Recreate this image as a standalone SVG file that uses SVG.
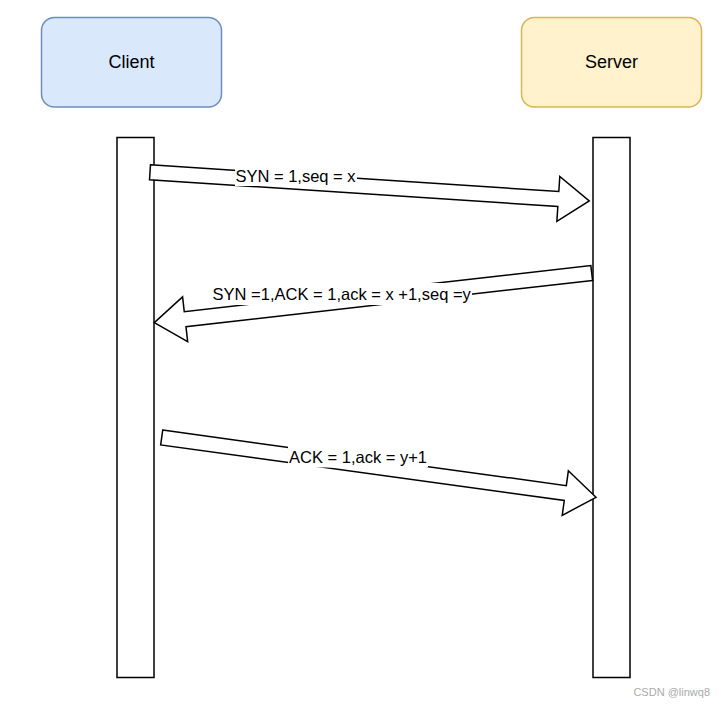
<svg xmlns="http://www.w3.org/2000/svg" width="723" height="705" viewBox="0 0 723 705">
<style>
.box{stroke-width:1.5}
.life{fill:#ffffff;stroke:#000000;stroke-width:1.5}
.arrow{fill:#ffffff;stroke:#000000;stroke-width:1.5;stroke-linejoin:miter}
.title{font-family:"Liberation Sans",Arial,sans-serif;font-size:18px;fill:#000000;text-anchor:middle}
.lbl{font-family:"Liberation Sans",Arial,sans-serif;font-size:16.5px;fill:#000000;text-anchor:middle}
.lblbg{fill:#ffffff}
</style>
<rect width="723" height="705" fill="#ffffff"/>
<g id="client">
<rect class="box" x="41.5" y="17.5" width="180" height="89.5" rx="13" ry="13" fill="#dae8fc" stroke="#6c8ebf"/>
<text class="title" x="131.5" y="68">Client</text>
</g>
<g id="server">
<rect class="box" x="521.5" y="17.5" width="180" height="89.5" rx="13" ry="13" fill="#fff2cc" stroke="#d6b656"/>
<text class="title" x="611.5" y="68">Server</text>
</g>
<g id="client-lifeline">
<rect class="life" x="117" y="137.5" width="37" height="540"/>
</g>
<g id="server-lifeline">
<rect class="life" x="593" y="137.5" width="37" height="540"/>
</g>
<g id="connectors">
<g id="syn">
<polygon class="arrow" transform="translate(150,172.2) rotate(3.75)" points="0,-7.5 409.2,-7.5 409.2,-22.5 440.2,0 409.2,22.5 409.2,7.5 0,7.5"/>
<rect class="lblbg" x="235" y="164" width="122" height="22"/>
<text class="lbl" x="295.5" y="182">SYN = 1,seq = x</text>
</g>
<g id="synack">
<polygon class="arrow" transform="translate(591.7,273) rotate(173.52)" points="0,-7.5 409.2,-7.5 409.2,-22.5 440.2,0 409.2,22.5 409.2,7.5 0,7.5"/>
<rect class="lblbg" x="212" y="283" width="260" height="22"/>
<text class="lbl" x="341.7" y="300">SYN =1,ACK = 1,ack = x +1,seq =y</text>
</g>
<g id="ack">
<polygon class="arrow" transform="translate(161.7,437.5) rotate(7.84)" points="0,-7.5 407.4,-7.5 407.4,-22.5 438.4,0 407.4,22.5 407.4,7.5 0,7.5"/>
<rect class="lblbg" x="288" y="445.5" width="140" height="22"/>
<text class="lbl" x="358" y="462.5">ACK = 1,ack = y+1</text>
</g>
</g>
<text x="710" y="696" font-family="Liberation Sans,Arial,sans-serif" font-size="11" fill="#aaaaaa" text-anchor="end">CSDN @linwq8</text>
</svg>
